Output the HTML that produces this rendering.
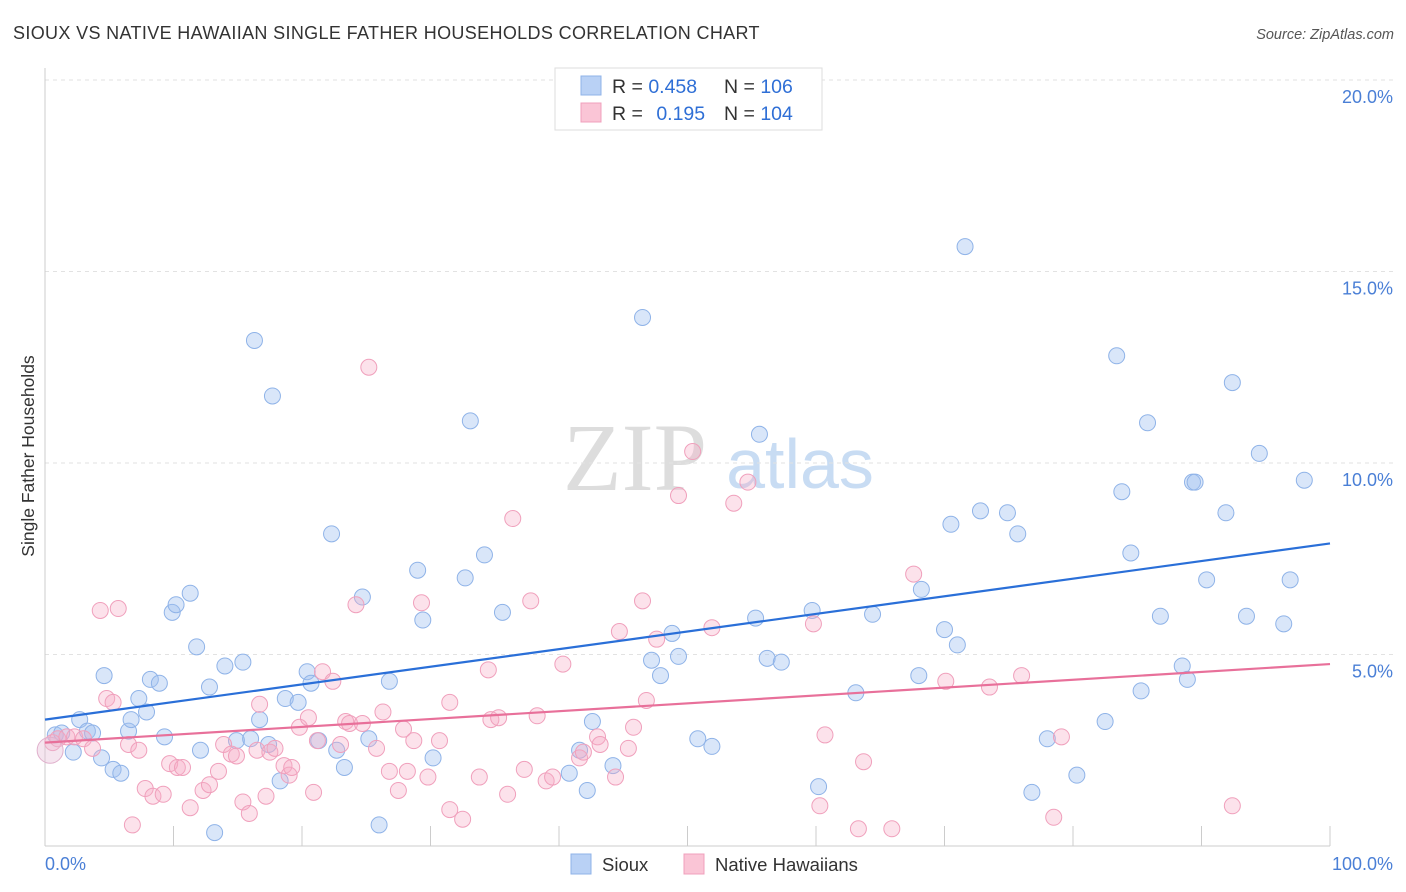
<!DOCTYPE html>
<html><head><meta charset="utf-8"><style>
body{margin:0;background:#fff;font-family:"Liberation Sans",sans-serif;}
svg{display:block}
</style></head><body>
<svg id="chart" width="1406" height="892">
<text x="13" y="39" font-size="18" letter-spacing="0.35" fill="#333">SIOUX VS NATIVE HAWAIIAN SINGLE FATHER HOUSEHOLDS CORRELATION CHART</text>
<text x="1394" y="39" font-size="14.5" fill="#555" font-style="italic" text-anchor="end">Source: ZipAtlas.com</text>
<g>
<text x="635" y="490" font-size="96" fill="#ddd" font-family="Liberation Serif,serif" text-anchor="middle">ZIP</text>
<text x="800" y="488" font-size="70" fill="#c8dcf3" text-anchor="middle">atlas</text>
</g>
<g id="grid"></g>
<g id="axes"></g>
<g id="pts"></g>
<g id="trend"></g>
<text transform="translate(34,456) rotate(-90)" font-size="17.5" fill="#333" text-anchor="middle">Single Father Households</text>
<text x="45" y="870" font-size="18" fill="#4a7fd6">0.0%</text>
<text x="1393" y="870" font-size="18" fill="#4a7fd6" text-anchor="end">100.0%</text>
<g>
<rect x="555" y="68" width="267" height="62" fill="#fff" stroke="#ddd"/>
<rect x="581" y="76" width="20" height="19" fill="#b9d1f5" stroke="#8fb3e8"/>
<rect x="581" y="103" width="20" height="19" fill="#fac5d6" stroke="#f0a0bc"/>
<text x="612" y="93" font-size="19.5" fill="#333">R = <tspan fill="#2f6fd6">0.458</tspan></text>
<text x="724" y="93" font-size="19.5" fill="#333">N = <tspan fill="#2f6fd6">106</tspan></text>
<text x="612" y="120" font-size="19.5" fill="#333">R = <tspan fill="#2f6fd6" dx="8">0.195</tspan></text>
<text x="724" y="120" font-size="19.5" fill="#333">N = <tspan fill="#2f6fd6">104</tspan></text>
</g>
<g>
<rect x="571" y="854" width="20" height="20" fill="#b9d1f5" stroke="#8fb3e8"/>
<text x="602" y="871" font-size="18.5" fill="#333">Sioux</text>
<rect x="684" y="854" width="20" height="20" fill="#fac5d6" stroke="#f0a0bc"/>
<text x="715" y="871" font-size="18.5" fill="#333">Native Hawaiians</text>
</g>
</svg>
<script>
const yTicks=[5,10,15,20];
const yTickLabels=["5.0%","10.0%","15.0%","20.0%"];
const xTicks=[0,10,20,30,40,50,60,70,80,90,100];
const siouxX=[0.8,1.3,2.2,2.7,3.3,3.7,4.4,4.6,5.3,5.9,6.5,6.7,7.3,7.9,8.2,8.9,9.3,9.9,10.2,11.3,11.8,12.1,12.8,13.2,14.0,14.9,15.4,16.0,16.3,16.7,17.4,17.7,18.3,18.7,19.7,20.4,20.7,21.3,22.3,22.7,23.3,24.7,25.2,26.0,26.8,29.0,29.4,30.2,32.7,33.1,34.2,35.6,40.8,42.2,42.6,44.2,41.6,46.5,47.2,47.9,48.8,49.3,50.8,51.9,55.3,55.6,56.2,57.3,59.7,60.2,63.1,64.4,68.0,68.2,70.0,70.5,71.0,71.6,72.8,74.9,75.7,76.8,78.0,80.3,82.5,83.4,83.8,84.5,85.3,85.8,86.8,88.5,88.9,89.3,89.5,90.4,91.9,92.4,93.5,94.5,96.4,96.9,98.0];
const siouxY=[2.9,2.95,2.45,3.3,3.0,2.95,2.3,4.45,2.0,1.9,3.0,3.3,3.85,3.5,4.35,4.25,2.85,6.1,6.3,6.6,5.2,2.5,4.15,0.35,4.7,2.75,4.8,2.8,13.2,3.3,2.65,11.75,1.7,3.85,3.75,4.55,4.25,2.75,8.15,2.5,2.05,6.5,2.8,0.55,4.3,7.2,5.9,2.3,7.0,11.1,7.6,6.1,1.9,1.45,3.25,2.1,2.5,13.8,4.85,4.45,5.55,4.95,2.8,2.6,5.95,10.75,4.9,4.8,6.15,1.55,4.0,6.05,4.45,6.7,5.65,8.4,5.25,15.65,8.75,8.7,8.15,1.4,2.8,1.85,3.25,12.8,9.25,7.65,4.05,11.05,6.0,4.7,4.35,9.5,9.5,6.95,8.7,12.1,6.0,10.25,5.8,6.95,9.55];
const hawX=[0.6,1.0,1.7,2.3,3.0,3.7,4.3,4.8,5.3,5.7,6.5,6.8,7.3,7.8,8.4,9.2,9.7,10.3,10.7,11.3,12.3,12.8,13.5,13.9,14.5,14.9,15.4,15.9,16.5,16.7,17.2,17.5,17.9,18.6,19.0,19.2,19.8,20.5,20.9,21.2,21.6,22.4,23.0,23.4,23.7,24.2,24.7,25.2,25.8,26.3,26.8,27.5,27.9,28.2,28.7,29.3,29.8,30.7,31.5,31.5,32.5,33.8,34.5,34.7,35.3,36.0,36.4,37.3,37.8,38.3,39.0,39.5,40.3,41.6,41.9,43.0,43.2,44.4,44.7,45.4,45.8,46.5,46.8,47.6,49.3,50.4,51.9,53.6,54.7,59.8,60.3,60.7,63.3,63.7,65.9,67.6,70.1,73.5,76.0,78.5,79.1,92.4];
const hawY=[2.7,2.8,2.85,2.85,2.8,2.55,6.15,3.85,3.75,6.2,2.65,0.55,2.5,1.5,1.3,1.35,2.15,2.05,2.05,1.0,1.45,1.6,1.95,2.65,2.4,2.35,1.15,0.85,2.5,3.7,1.3,2.45,2.55,2.1,1.85,2.05,3.1,3.35,1.4,2.75,4.55,4.3,2.65,3.25,3.2,6.3,3.2,12.5,2.55,3.5,1.95,1.45,3.05,1.95,2.75,6.35,1.8,2.75,3.75,0.95,0.7,1.8,4.6,3.3,3.35,1.35,8.55,2.0,6.4,3.4,1.7,1.8,4.75,2.3,2.45,2.85,2.65,1.8,5.6,2.55,3.1,6.4,3.8,5.4,9.15,10.3,5.7,8.95,9.5,5.8,1.05,2.9,0.45,2.2,0.45,7.1,4.3,4.15,4.45,0.75,2.85,1.05];
const siouxTrend=[3.3,7.9];
const hawTrend=[2.7,4.75];
const NS="http://www.w3.org/2000/svg";
const X=v=>45+v*12.85, Y=v=>846-v*38.3;
function mk(t,a,p){const e=document.createElementNS(NS,t);for(const k in a)e.setAttribute(k,a[k]);document.getElementById(p).appendChild(e);return e;}
yTicks.forEach((t,i)=>{
 const l=mk('line',{x1:45,x2:1395,y1:Y(t),y2:Y(t),stroke:'#e2e2e2','stroke-dasharray':'4,4'},'grid');
 
 
 const tx=mk('text',{x:1393,y:Y(t)+23,'font-size':18,fill:'#4a7fd6','text-anchor':'end'},'grid');
 tx.textContent=yTickLabels[i];
 
 
});
const al=mk('line',{x1:45,x2:45,y1:68,y2:846,stroke:'#ccc'},'axes');


const bl=mk('line',{x1:45,x2:1330,y1:846,y2:846,stroke:'#ccc'},'axes');


xTicks.forEach(t=>{
 const l=mk('line',{x1:X(t),x2:X(t),y1:826,y2:846,stroke:'#ccc'},'axes');
 
 
});
function pts(xs,ys,fill,stroke,name){
 xs.forEach((x,i)=>{
  const c=mk('circle',{cx:X(x),cy:Y(ys[i]),r:8,fill:fill,stroke:stroke,'stroke-width':1},'pts');
  
  
 });
}
pts(siouxX,siouxY,'rgba(160,192,240,0.4)','#8fb3e8','sioux-point');
pts(hawX,hawY,'rgba(246,172,198,0.35)','#f0a0bc','hawaiian-point');
const big=mk('circle',{cx:X(0.4),cy:Y(2.5),r:13,fill:'rgba(230,190,215,0.4)',stroke:'#e0b0cc'},'pts');


const t1=mk('line',{x1:X(0),y1:Y(siouxTrend[0]),x2:X(100),y2:Y(siouxTrend[1]),stroke:'#2a6fd8','stroke-width':2.2},'trend');


const t2=mk('line',{x1:X(0),y1:Y(hawTrend[0]),x2:X(100),y2:Y(hawTrend[1]),stroke:'#e8709a','stroke-width':2.2},'trend');


</script>
</body></html>
